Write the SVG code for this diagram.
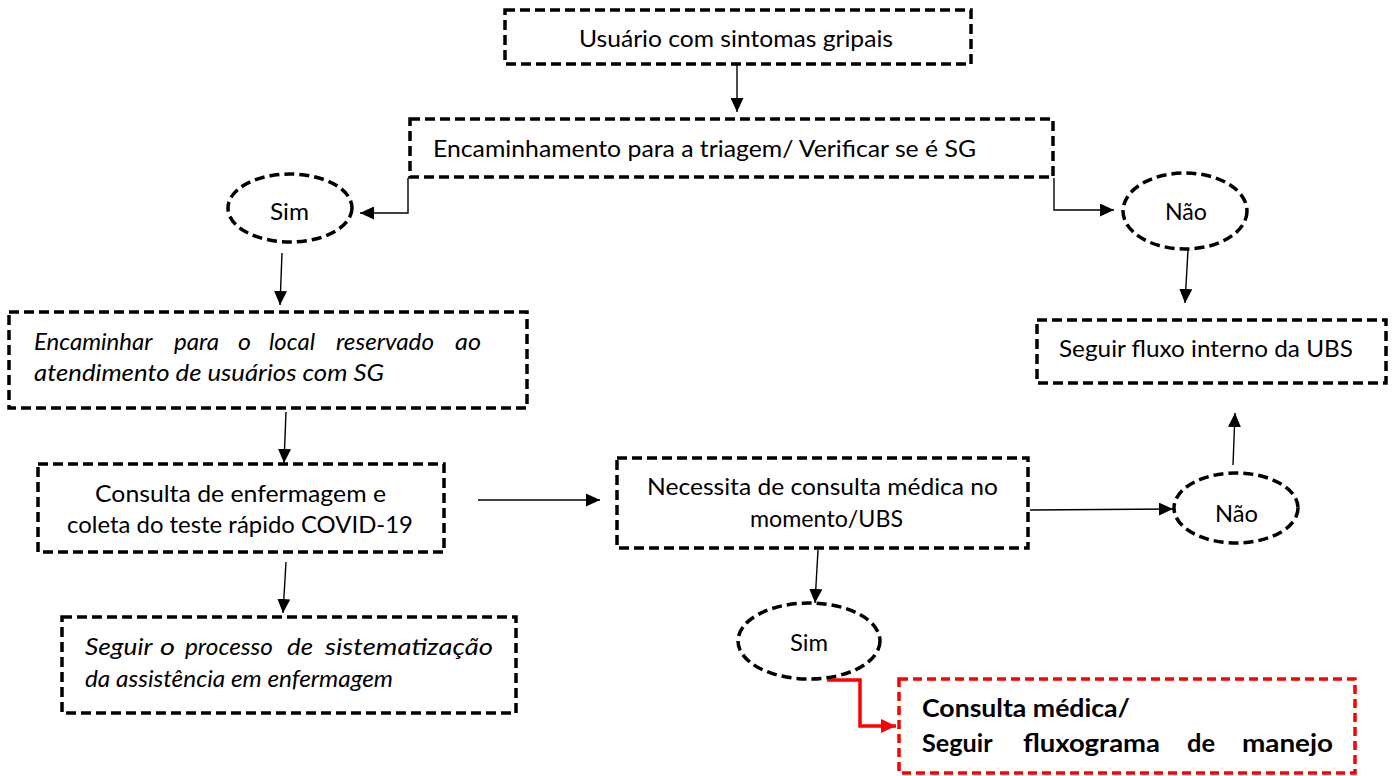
<svg xmlns="http://www.w3.org/2000/svg" width="1399" height="776" viewBox="0 0 1399 776">
<defs>
<style>
.box{fill:#fff;stroke:#000;stroke-width:3.5;stroke-dasharray:10 5}
.ell{fill:#fff;stroke:#000;stroke-width:3.5;stroke-dasharray:10 5}
.red{fill:#fff;stroke:#ff0000;stroke-width:3.5;stroke-dasharray:9 5}
.t{font-family:Lato,"Open Sans","Liberation Sans",sans-serif;font-size:24px;fill:#000}
.i{font-style:italic}
.b{font-weight:bold}
.con{fill:none;stroke:#000;stroke-width:1.4;marker-end:url(#ah)}
.rcon{fill:none;stroke:#ff0000;stroke-width:3.5;marker-end:url(#rah)}
</style>
<marker id="ah" markerUnits="userSpaceOnUse" markerWidth="14" markerHeight="13" refX="14" refY="6.5" orient="auto"><path d="M0,0 L14,6.5 L0,13 z" fill="#000"/></marker>
<marker id="rah" markerUnits="userSpaceOnUse" markerWidth="15" markerHeight="14" refX="15" refY="7" orient="auto"><path d="M0,0 L15,7 L0,14 z" fill="#ff0000"/></marker>
</defs>
<rect width="1399" height="776" fill="#fff"/>
<g id="connectors">
<path class="con" d="M737,65 V112"/>
<path class="con" d="M408,178 V213 H360"/>
<path class="con" d="M1054,178 V210 H1114"/>
<path class="con" d="M282,253 L280,305"/>
<path class="con" d="M1188,250 L1185,303"/>
<path class="con" d="M286,412 L284,463"/>
<path class="con" d="M478,500 H600"/>
<path class="con" d="M286,562 L283,613"/>
<path class="con" d="M1030,510 L1173,509"/>
<path class="con" d="M1233,465 L1235,413"/>
<path class="con" d="M818,550 L815,603"/>
<path class="rcon" d="M827,680 H860 V726 H896"/>
</g>
<g id="n1"><rect class="box" x="505" y="10" width="466" height="54"/>
<text class="t" x="579" y="47" textLength="314" lengthAdjust="spacingAndGlyphs">Usuário com sintomas gripais</text></g>
<g id="n2"><rect class="box" x="410" y="119" width="643" height="58"/>
<text class="t" x="433" y="157" textLength="543" lengthAdjust="spacingAndGlyphs">Encaminhamento para a triagem/ Verificar se é SG</text></g>
<g id="n3"><ellipse class="ell" cx="290" cy="208" rx="62" ry="34"/>
<text class="t" x="270" y="220" textLength="39" lengthAdjust="spacingAndGlyphs">Sim</text></g>
<g id="n4"><ellipse class="ell" cx="1185" cy="211" rx="62" ry="38"/>
<text class="t" x="1165" y="220" textLength="42" lengthAdjust="spacingAndGlyphs">Não</text></g>
<g id="n5"><rect class="box" x="9" y="312" width="518" height="96"/>
<text class="t i" y="350"><tspan x="34" textLength="118" lengthAdjust="spacingAndGlyphs">Encaminhar</tspan> <tspan x="174" textLength="45" lengthAdjust="spacingAndGlyphs">para</tspan> <tspan x="238" textLength="13" lengthAdjust="spacingAndGlyphs">o</tspan> <tspan x="269" textLength="46" lengthAdjust="spacingAndGlyphs">local</tspan> <tspan x="336" textLength="98" lengthAdjust="spacingAndGlyphs">reservado</tspan> <tspan x="455" textLength="26" lengthAdjust="spacingAndGlyphs">ao</tspan></text>
<text class="t i" x="34" y="381" textLength="350" lengthAdjust="spacingAndGlyphs">atendimento de usuários com SG</text></g>
<g id="n6"><rect class="box" x="1037" y="320" width="349" height="63"/>
<text class="t" x="1059" y="357" textLength="294" lengthAdjust="spacingAndGlyphs">Seguir fluxo interno da UBS</text></g>
<g id="n7"><rect class="box" x="38" y="464" width="406" height="88"/>
<text class="t" x="95" y="502" textLength="291" lengthAdjust="spacingAndGlyphs">Consulta de enfermagem e</text>
<text class="t" x="67" y="533" textLength="346" lengthAdjust="spacingAndGlyphs">coleta do teste rápido COVID-19</text></g>
<g id="n8"><rect class="box" x="617" y="458" width="411" height="90"/>
<text class="t" x="647" y="495" textLength="351" lengthAdjust="spacingAndGlyphs">Necessita de consulta médica no</text>
<text class="t" x="750" y="527" textLength="153" lengthAdjust="spacingAndGlyphs">momento/UBS</text></g>
<g id="n9"><ellipse class="ell" cx="1236" cy="508" rx="62" ry="35"/>
<text class="t" x="1215" y="522" textLength="43" lengthAdjust="spacingAndGlyphs">Não</text></g>
<g id="n10"><rect class="box" x="62" y="617" width="454" height="96"/>
<text class="t i" y="655"><tspan x="85" textLength="67" lengthAdjust="spacingAndGlyphs">Seguir</tspan> <tspan x="160" textLength="15" lengthAdjust="spacingAndGlyphs">o</tspan> <tspan x="185" textLength="88" lengthAdjust="spacingAndGlyphs">processo</tspan> <tspan x="287" textLength="26" lengthAdjust="spacingAndGlyphs">de</tspan> <tspan x="325" textLength="168" lengthAdjust="spacingAndGlyphs">sistematização</tspan></text>
<text class="t i" x="85" y="687" textLength="308" lengthAdjust="spacingAndGlyphs">da assistência em enfermagem</text></g>
<g id="n11"><ellipse class="ell" cx="809" cy="641" rx="71" ry="38"/>
<text class="t" x="790" y="651" textLength="38" lengthAdjust="spacingAndGlyphs">Sim</text></g>
<g id="n12"><rect class="red" x="899" y="679" width="456" height="94"/>
<text class="t b" x="922" y="717" textLength="208" lengthAdjust="spacingAndGlyphs">Consulta médica/</text>
<text class="t b" y="752"><tspan x="922" textLength="70" lengthAdjust="spacingAndGlyphs">Seguir</tspan> <tspan x="1023" textLength="137" lengthAdjust="spacingAndGlyphs">fluxograma</tspan> <tspan x="1187" textLength="28" lengthAdjust="spacingAndGlyphs">de</tspan> <tspan x="1242" textLength="91" lengthAdjust="spacingAndGlyphs">manejo</tspan></text></g>
</svg>
